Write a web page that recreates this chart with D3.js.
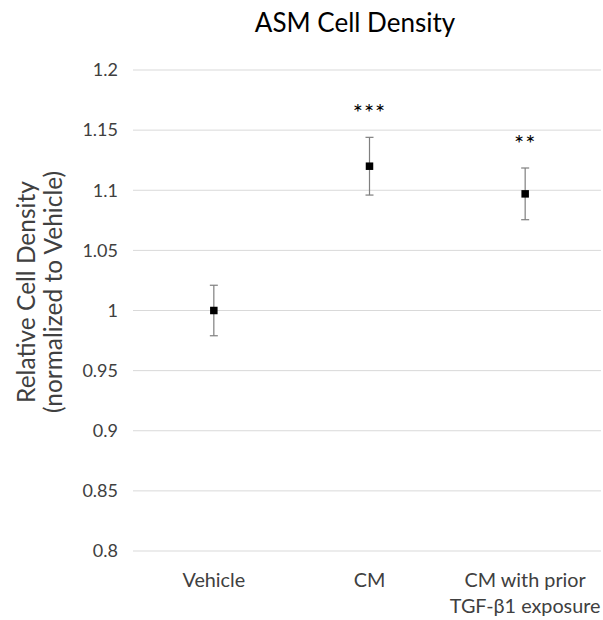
<!DOCTYPE html>
<html>
<head>
<meta charset="utf-8">
<script src="https://cdn.jsdelivr.net/npm/d3@7"></script>
<style>
  html, body { margin: 0; padding: 0; background: #fff; }
  svg { display: block; font-family: Lato, "Open Sans", sans-serif; }
</style>
</head>
<body>
<svg id="chart" width="603" height="620"></svg>
<script>
// Group names, shown as one or two lines under the axis
const categories = ["Vehicle", "CM", "CM with prior\nTGF-β1 exposure"];
// Mean relative cell density per group
const means = [1.0, 1.12, 1.097];
// Error bar half-widths
const errors = [0.021, 0.024, 0.0215];
// Significance markers above the error bars
const significance = ["", "***", "**"];
// Value-axis ticks
const yTicks = [0.8, 0.85, 0.9, 0.95, 1, 1.05, 1.1, 1.15, 1.2];

const svg = d3.select("#chart");
const plot = { left: 133, right: 601, top: 70, bottom: 551 };

const y = d3.scaleLinear().domain([0.8, 1.2]).range([plot.bottom, plot.top]);
const x = d3.scaleBand().domain(categories).range([136, 603]);
const cx = c => x(c) + x.bandwidth() / 2;

// Title
svg.append("text")
  .attr("x", 355).attr("y", 32)
  .attr("text-anchor", "middle")
  .attr("font-size", 26)
  .attr("fill", "#000")
  .text("ASM Cell Density");

// Horizontal gridlines
svg.append("g").selectAll("line").data(yTicks).join("line")
  .attr("x1", plot.left).attr("x2", plot.right)
  .attr("y1", d => y(d)).attr("y2", d => y(d))
  .attr("stroke", "#d9d9d9").attr("stroke-width", 1);

// Value axis labels
const yAxis = d3.axisLeft(y).tickValues(yTicks).tickSize(0).tickPadding(0)
  .tickFormat(d => String(+d.toFixed(2)));
const yg = svg.append("g").attr("transform", "translate(118,0)").call(yAxis);
yg.select(".domain").remove();
yg.selectAll("text")
  .attr("font-family", "Lato, 'Open Sans', sans-serif")
  .attr("font-size", 18).attr("fill", "#404040");

// Value axis title (two lines, rotated)
const yTitle = svg.append("text")
  .attr("transform", "translate(0,292) rotate(-90)")
  .attr("text-anchor", "middle")
  .attr("font-size", 24.5)
  .attr("fill", "#404040");
yTitle.append("tspan").attr("x", 0).attr("y", 35).text("Relative Cell Density");
yTitle.append("tspan").attr("x", 0).attr("y", 62).text("(normalized to Vehicle)");

// Category labels
const xg = svg.append("g");
categories.forEach(c => {
  const t = xg.append("text")
    .attr("text-anchor", "middle")
    .attr("font-size", 19.8)
    .attr("fill", "#404040");
  c.split("\n").forEach((line, i) => {
    t.append("tspan").attr("x", cx(c)).attr("y", 587 + i * 26).text(line);
  });
});

// Error bars
const rows = categories.map((c, i) => ({ c, m: means[i], e: errors[i], s: significance[i] }));
const eb = svg.append("g").attr("stroke", "#7f7f7f").attr("stroke-width", 1.2);
eb.selectAll(".stem").data(rows).join("line")
  .attr("x1", d => cx(d.c)).attr("x2", d => cx(d.c))
  .attr("y1", d => y(d.m - d.e)).attr("y2", d => y(d.m + d.e));
eb.selectAll(".capTop").data(rows).join("line")
  .attr("x1", d => cx(d.c) - 4).attr("x2", d => cx(d.c) + 4)
  .attr("y1", d => y(d.m + d.e)).attr("y2", d => y(d.m + d.e));
eb.selectAll(".capBot").data(rows).join("line")
  .attr("x1", d => cx(d.c) - 4).attr("x2", d => cx(d.c) + 4)
  .attr("y1", d => y(d.m - d.e)).attr("y2", d => y(d.m - d.e));

// Mean markers
svg.append("g").selectAll("rect").data(rows).join("rect")
  .attr("x", d => cx(d.c) - 3.75).attr("y", d => y(d.m) - 3.75)
  .attr("width", 7.5).attr("height", 7.5)
  .attr("fill", "#000");

// Significance stars
svg.append("g").selectAll("text").data(rows.filter(d => d.s)).join("text")
  .attr("x", d => cx(d.c)).attr("y", d => y(d.m + d.e) - 16)
  .attr("text-anchor", "middle")
  .attr("font-size", 24)
  .attr("letter-spacing", 1)
  .attr("fill", "#000")
  .text(d => d.s);
</script>
</body>
</html>
